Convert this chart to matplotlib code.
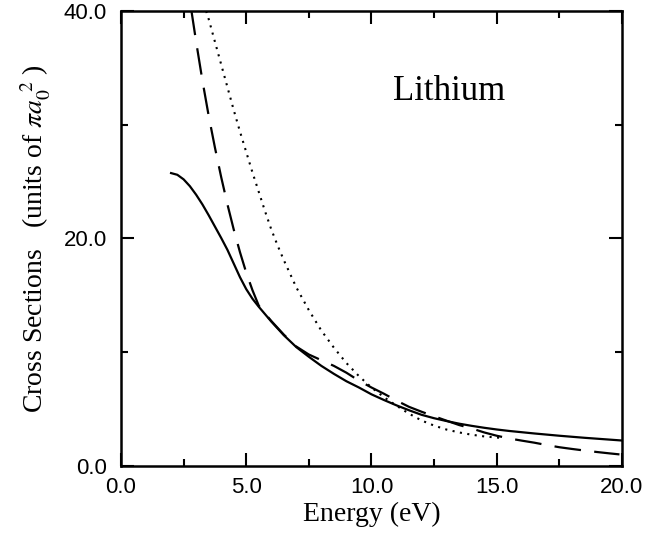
import matplotlib
matplotlib.use('Agg')
from matplotlib import pyplot as plt
from matplotlib.ticker import MultipleLocator, FormatStrFormatter

plt.rcParams['mathtext.fontset'] = 'stix'

# solid curve
solid_x = [2.0, 2.25, 2.5, 2.75, 3.0, 3.25, 3.5, 3.75, 4.0, 4.25, 4.5, 4.75, 5.0,
           5.25, 5.5, 5.75, 6.0, 6.5, 7.0, 7.5, 8.0, 8.5, 9.0, 9.5, 10.0, 10.5,
           11.0, 11.5, 12.0, 12.5, 13.0, 13.5, 14.0, 14.5, 15.0, 15.5, 16.0, 16.5,
           17.0, 17.5, 18.0, 18.5, 19.0, 19.5, 20.0]
solid_y = [25.75, 25.6, 25.2, 24.6, 23.85, 23.0, 22.05, 21.05, 20.05, 19.0, 17.8, 16.6, 15.55,
           14.7, 14.0, 13.35, 12.7, 11.5, 10.45, 9.6, 8.8, 8.1, 7.45, 6.9, 6.3, 5.8,
           5.33, 4.9, 4.5, 4.2, 3.95, 3.72, 3.53, 3.36, 3.21, 3.08, 2.97, 2.86,
           2.76, 2.66, 2.57, 2.48, 2.4, 2.32, 2.24]

# dashed curve
dash_x = [2.8, 3.0, 3.25, 3.5, 3.75, 4.0, 4.25, 4.5, 4.75, 5.0, 5.25, 5.5, 5.75,
          6.0, 6.5, 7.0, 7.5, 8.0, 8.5, 9.0, 9.5, 10.0, 10.5, 11.0, 11.5, 12.0,
          12.5, 13.0, 13.5, 14.0, 14.5, 15.0, 15.5, 16.0, 16.5, 17.0, 17.5, 18.0,
          18.5, 19.0, 19.5, 19.9]
dash_y = [40.2, 37.3, 33.9, 30.8, 28.0, 25.4, 23.0, 20.8, 18.8, 17.0, 15.45, 14.1, 13.4,
          12.75, 11.55, 10.5, 9.8, 9.3, 8.8, 8.2, 7.5, 6.9, 6.35, 5.75, 5.2, 4.77,
          4.37, 3.98, 3.6, 3.3, 2.95, 2.66, 2.42, 2.23, 2.05, 1.84, 1.65, 1.5,
          1.36, 1.23, 1.11, 1.02]

# dotted curve
dot_x = [3.4, 3.5, 3.75, 4.0, 4.25, 4.5, 4.75, 5.0, 5.25, 5.5, 5.75, 6.0, 6.25,
         6.5, 6.75, 7.0, 7.5, 8.0, 8.5, 9.0, 9.5, 10.0, 10.5, 11.0, 11.5, 12.0,
         12.5, 13.0, 13.5, 14.0, 14.5, 15.0, 15.2]
dot_y = [40.0, 39.3, 37.3, 35.3, 33.3, 31.3, 29.4, 27.6, 25.8, 24.1, 22.4, 20.8, 19.4,
         18.1, 16.9, 15.7, 13.7, 11.9, 10.4, 9.05, 7.9, 6.9, 6.05, 5.3, 4.6, 4.0,
         3.55, 3.2, 2.95, 2.75, 2.6, 2.5, 2.47]

fig = plt.figure(figsize=(6.68, 5.36), dpi=100)
ax = fig.add_axes([0.1811, 0.1306, 0.75, 0.8489])

ax.plot(solid_x, solid_y, color='black', lw=1.6)
ax.plot(dash_x, dash_y, color='black', lw=1.6, dashes=(12, 6))
ax.plot(dot_x, dot_y, color='black', lw=1.5, dashes=(1, 2.6))

ax.set_xlim(0, 20)
ax.set_ylim(0, 40)
ax.xaxis.set_major_locator(MultipleLocator(5))
ax.xaxis.set_minor_locator(MultipleLocator(2.5))
ax.yaxis.set_major_locator(MultipleLocator(20))
ax.yaxis.set_minor_locator(MultipleLocator(10))
ax.xaxis.set_major_formatter(FormatStrFormatter('%.1f'))
ax.yaxis.set_major_formatter(FormatStrFormatter('%.1f'))

ax.tick_params(which='both', direction='in', top=True, right=True, width=1.5,
               labelsize=16, labelfontfamily='Liberation Sans')
ax.tick_params(which='major', length=9.5, pad=8)
ax.tick_params(axis='y', which='major', pad=10)
ax.tick_params(which='minor', length=5)
for s in ax.spines.values():
    s.set_linewidth(1.8)

ax.set_xlabel('Energy (eV)', family='Liberation Serif', fontsize=20, labelpad=3)
ax.set_ylabel('Cross Sections   (units of $\\pi a_0^{\\;\\,2}$ )',
              family='Liberation Serif', fontsize=20, labelpad=8)

ax.text(13.1, 32.9, 'Lithium', family='Liberation Serif', fontsize=25,
        ha='center', va='center')

fig.savefig('out.png', dpi=100)
